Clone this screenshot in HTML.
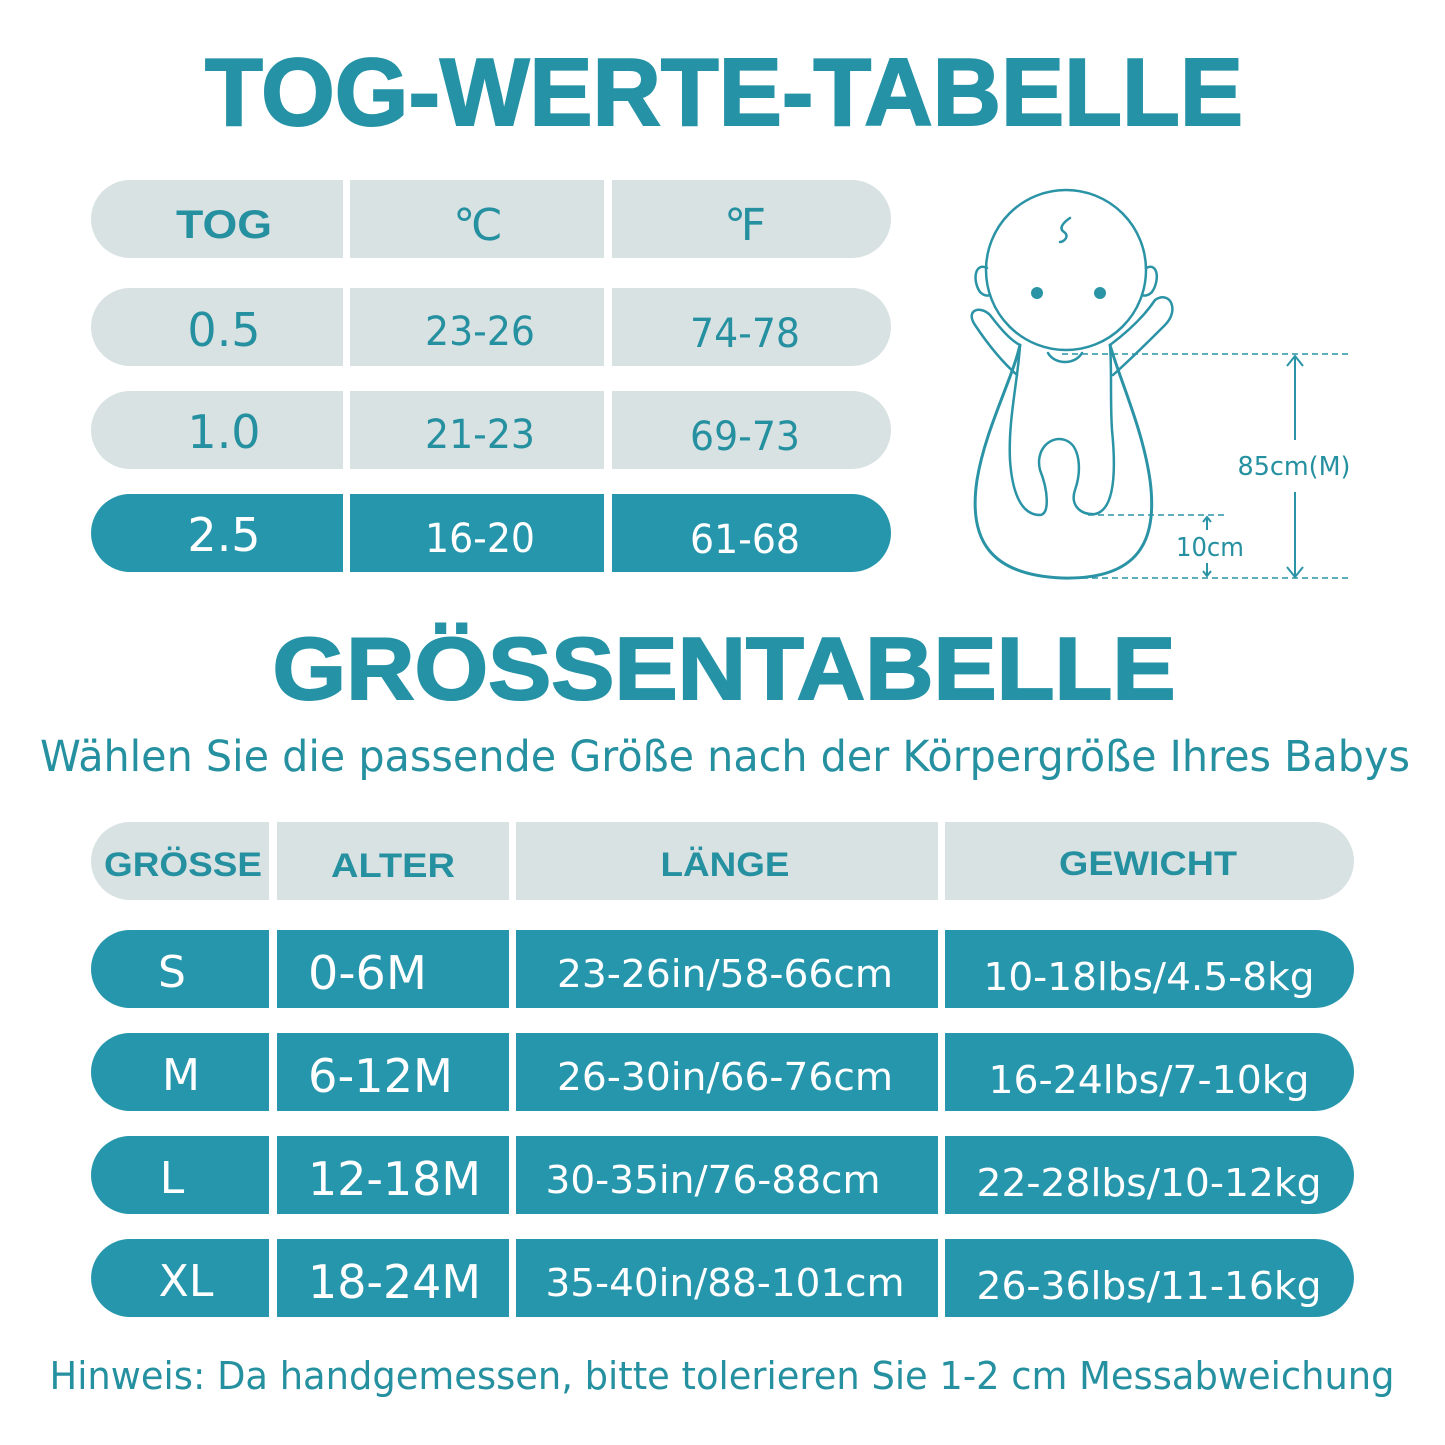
<!DOCTYPE html>
<html><head><meta charset="utf-8"><style>
html,body{margin:0;padding:0;background:#fff;}
svg{display:block;}
text{font-family:"Liberation Sans","DejaVu Sans",sans-serif;}
.t{fill:#2590a0;}
.w{fill:#fff;}
.d, .d text{font-family:"DejaVu Sans","Liberation Sans",sans-serif;}
</style></head><body>
<svg width="1445" height="1445" viewBox="0 0 1445 1445" xmlns="http://www.w3.org/2000/svg">
<rect width="1445" height="1445" fill="#fff"/>
<text x="724" y="125" text-anchor="middle" font-size="96" font-weight="bold" fill="#2592a6" stroke="#2592a6" stroke-width="2" textLength="1038" lengthAdjust="spacingAndGlyphs">TOG-WERTE-TABELLE</text>

<!-- TOG table -->
<g fill="#d9e2e3">
<path d="M130,180 H343 V258 H130 A39,39 0 0 1 130,180Z"/><rect x="350" y="180" width="254" height="78"/><path d="M612,180 H852 A39,39 0 0 1 852,258 H612Z"/>
<path d="M130,288 H343 V366 H130 A39,39 0 0 1 130,288Z"/><rect x="350" y="288" width="254" height="78"/><path d="M612,288 H852 A39,39 0 0 1 852,366 H612Z"/>
<path d="M130,391 H343 V469 H130 A39,39 0 0 1 130,391Z"/><rect x="350" y="391" width="254" height="78"/><path d="M612,391 H852 A39,39 0 0 1 852,469 H612Z"/>
</g>
<g fill="#2596ac">
<path d="M130,494 H343 V572 H130 A39,39 0 0 1 130,494Z"/><rect x="350" y="494" width="254" height="78"/><path d="M612,494 H852 A39,39 0 0 1 852,572 H612Z"/>
</g>
<text x="224" y="238" font-size="40" font-weight="bold" class="t" text-anchor="middle" textLength="96" lengthAdjust="spacingAndGlyphs">TOG</text>
<g text-anchor="middle" class="d">
<text x="478" y="240" font-size="44" class="t">℃</text>
<text x="745" y="240" font-size="44" class="t">℉</text>
<text x="224" y="346" font-size="46" class="t">0.5</text>
<text x="480" y="345" font-size="40" class="t" textLength="110" lengthAdjust="spacingAndGlyphs">23-26</text>
<text x="745" y="347" font-size="40" class="t" textLength="110" lengthAdjust="spacingAndGlyphs">74-78</text>
<text x="224" y="448" font-size="46" class="t">1.0</text>
<text x="480" y="448" font-size="40" class="t" textLength="110" lengthAdjust="spacingAndGlyphs">21-23</text>
<text x="745" y="450" font-size="40" class="t" textLength="110" lengthAdjust="spacingAndGlyphs">69-73</text>
<text x="224" y="551" font-size="46" class="w">2.5</text>
<text x="480" y="552" font-size="40" class="w" textLength="110" lengthAdjust="spacingAndGlyphs">16-20</text>
<text x="745" y="553" font-size="40" class="w" textLength="110" lengthAdjust="spacingAndGlyphs">61-68</text>
</g>

<!-- Baby -->
<g fill="none" stroke="#2a93a6" stroke-width="2.5" stroke-linecap="round">
<path d="M1020,345 C1012,380 985,430 977,480 C968,540 990,575 1062,578 C1140,580 1158,540 1150,480 C1143,430 1120,380 1110,345" stroke-width="3"/>
<path d="M1020,345 C1018,380 1008,420 1010,460 C1012,490 1020,515 1040,515 C1050,514 1048,490 1040,470 C1035,450 1050,435 1065,440 C1080,445 1082,470 1075,490 C1070,505 1080,515 1095,514 C1115,510 1116,470 1112,430 C1110,400 1112,370 1110,345"/>
<path d="M1048,353 C1055,365 1075,365 1082,353"/>
<path d="M1017,375 C1000,360 985,340 975,325 C965,310 980,305 990,315 C1000,328 1010,340 1020,345"/>
<path d="M1113,375 C1130,360 1150,340 1165,325 C1180,310 1170,290 1155,300 C1145,315 1130,330 1110,345"/>
<circle cx="1066" cy="270" r="80"/>
<path d="M987,268 C975,262 972,280 980,292 C984,296 988,296 990,295"/>
<path d="M1146,268 C1158,262 1160,280 1152,292 C1148,296 1144,296 1142,295"/>
<path d="M1070,218 C1064,222 1058,228 1064,232 C1070,236 1064,242 1060,242"/>
</g>
<circle cx="1037" cy="293" r="6" fill="#2a93a6"/>
<circle cx="1100" cy="293" r="6" fill="#2a93a6"/>
<g stroke="#2a93a6" stroke-width="1.5" stroke-dasharray="6,4" fill="none">
<line x1="1062" y1="354" x2="1350" y2="354"/>
<line x1="1088" y1="515" x2="1228" y2="515"/>
<line x1="1062" y1="578" x2="1350" y2="578"/>
</g>
<g stroke="#2a93a6" stroke-width="2" fill="none">
<line x1="1295" y1="356" x2="1295" y2="440"/><line x1="1295" y1="492" x2="1295" y2="577"/>
<path d="M1287,366 L1295,356 L1303,366"/><path d="M1287,567 L1295,577 L1303,567"/>
<line x1="1207" y1="517" x2="1207" y2="530"/><path d="M1203,522 L1207,517 L1211,522"/>
<line x1="1207" y1="563" x2="1207" y2="576"/><path d="M1203,571 L1207,576 L1211,571"/>
</g>
<text x="1294" y="475" font-size="26" text-anchor="middle" class="t d" textLength="113" lengthAdjust="spacingAndGlyphs">85cm(M)</text>
<text x="1210" y="556" font-size="26" text-anchor="middle" class="t d" textLength="68" lengthAdjust="spacingAndGlyphs">10cm</text>

<!-- Size title -->
<text x="724" y="699" text-anchor="middle" font-size="88" font-weight="bold" fill="#2592a6" stroke="#2592a6" stroke-width="2" textLength="903" lengthAdjust="spacingAndGlyphs">GRÖSSENTABELLE</text>
<text x="725" y="771" text-anchor="middle" font-size="43" class="t d" textLength="1370" lengthAdjust="spacingAndGlyphs">Wählen Sie die passende Größe nach der Körpergröße Ihres Babys</text>

<!-- Size table -->
<g fill="#d9e2e3">
<path d="M130,822 H269 V900 H130 A39,39 0 0 1 130,822Z"/><rect x="277" y="822" width="232" height="78"/><rect x="516" y="822" width="422" height="78"/><path d="M945,822 H1315 A39,39 0 0 1 1315,900 H945Z"/>
</g>
<g fill="#2596ac">
<path d="M130,930 H269 V1008 H130 A39,39 0 0 1 130,930Z"/><rect x="277" y="930" width="232" height="78"/><rect x="516" y="930" width="422" height="78"/><path d="M945,930 H1315 A39,39 0 0 1 1315,1008 H945Z"/>
<path d="M130,1033 H269 V1111 H130 A39,39 0 0 1 130,1033Z"/><rect x="277" y="1033" width="232" height="78"/><rect x="516" y="1033" width="422" height="78"/><path d="M945,1033 H1315 A39,39 0 0 1 1315,1111 H945Z"/>
<path d="M130,1136 H269 V1214 H130 A39,39 0 0 1 130,1136Z"/><rect x="277" y="1136" width="232" height="78"/><rect x="516" y="1136" width="422" height="78"/><path d="M945,1136 H1315 A39,39 0 0 1 1315,1214 H945Z"/>
<path d="M130,1239 H269 V1317 H130 A39,39 0 0 1 130,1239Z"/><rect x="277" y="1239" width="232" height="78"/><rect x="516" y="1239" width="422" height="78"/><path d="M945,1239 H1315 A39,39 0 0 1 1315,1317 H945Z"/>
</g>
<g font-size="34" font-weight="bold" text-anchor="middle" class="t" lengthAdjust="spacingAndGlyphs">
<text x="183" y="876" textLength="158" lengthAdjust="spacingAndGlyphs">GRÖSSE</text>
<text x="393" y="877" textLength="124" lengthAdjust="spacingAndGlyphs">ALTER</text>
<text x="725" y="876" textLength="129" lengthAdjust="spacingAndGlyphs">LÄNGE</text>
<text x="1148" y="875" textLength="178" lengthAdjust="spacingAndGlyphs">GEWICHT</text>
</g>
<g class="w d">
<text x="172" y="987" font-size="44" text-anchor="middle">S</text>
<text x="308" y="989" font-size="46" textLength="119" lengthAdjust="spacingAndGlyphs">0-6M</text>
<text x="725" y="987" font-size="38" text-anchor="middle" textLength="336" lengthAdjust="spacingAndGlyphs">23-26in/58-66cm</text>
<text x="1149" y="990" font-size="38" text-anchor="middle" textLength="331" lengthAdjust="spacingAndGlyphs">10-18lbs/4.5-8kg</text>
<text x="181" y="1090" font-size="44" text-anchor="middle">M</text>
<text x="308" y="1092" font-size="46" textLength="145" lengthAdjust="spacingAndGlyphs">6-12M</text>
<text x="725" y="1090" font-size="38" text-anchor="middle" textLength="336" lengthAdjust="spacingAndGlyphs">26-30in/66-76cm</text>
<text x="1149" y="1093" font-size="38" text-anchor="middle" textLength="321" lengthAdjust="spacingAndGlyphs">16-24lbs/7-10kg</text>
<text x="172" y="1193" font-size="44" text-anchor="middle">L</text>
<text x="308" y="1195" font-size="46" textLength="173" lengthAdjust="spacingAndGlyphs">12-18M</text>
<text x="713" y="1193" font-size="38" text-anchor="middle" textLength="335" lengthAdjust="spacingAndGlyphs">30-35in/76-88cm</text>
<text x="1149" y="1196" font-size="38" text-anchor="middle" textLength="345" lengthAdjust="spacingAndGlyphs">22-28lbs/10-12kg</text>
<text x="186" y="1296" font-size="44" text-anchor="middle">XL</text>
<text x="308" y="1298" font-size="46" textLength="173" lengthAdjust="spacingAndGlyphs">18-24M</text>
<text x="725" y="1296" font-size="38" text-anchor="middle" textLength="359" lengthAdjust="spacingAndGlyphs">35-40in/88-101cm</text>
<text x="1149" y="1299" font-size="38" text-anchor="middle" textLength="345" lengthAdjust="spacingAndGlyphs">26-36lbs/11-16kg</text>
</g>
<text x="722" y="1389" text-anchor="middle" font-size="38" class="t d" textLength="1345" lengthAdjust="spacingAndGlyphs">Hinweis: Da handgemessen, bitte tolerieren Sie 1-2 cm Messabweichung</text>
</svg>
</body></html>
